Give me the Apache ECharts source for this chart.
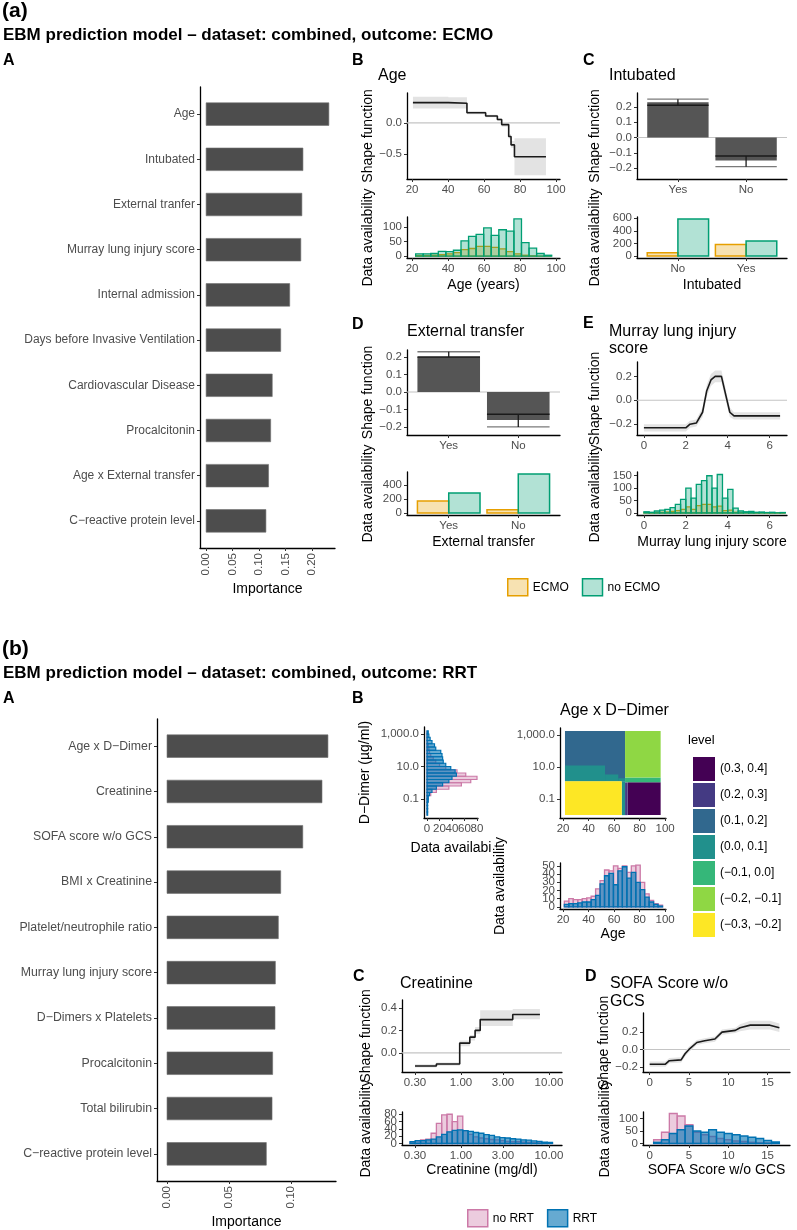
<!DOCTYPE html>
<html><head><meta charset="utf-8">
<script src="https://cdn.jsdelivr.net/npm/echarts@6/dist/echarts.min.js"></script>
<style>html,body{margin:0;padding:0;background:#fff}#c{width:797px;height:1230px}</style>
</head><body><div id="c"></div>
<script>
// ================= DATA =================
// (a) A  feature importance (ECMO)
const ecmoFeatures = ['Age','Intubated','External tranfer','Murray lung injury score','Internal admission','Days before Invasive Ventilation','Cardiovascular Disease','Procalcitonin','Age x External transfer','C\u2212reactive protein level'];
const ecmoImportance = [0.232,0.183,0.181,0.179,0.158,0.141,0.125,0.122,0.118,0.113];
const importanceTicksA = [0,0.05,0.10,0.15,0.20];

// (a) B  Age shape function
const ageShapeX = [20.5,40.2,50.5,60.9,67.4,69.8,73.7,75.0,76.9,94.4];
const ageShapeY = [0.326,0.315,0.163,0.110,0.054,-0.027,-0.217,-0.353,-0.543,-0.543];
const ageBandLo = [0.23,0.23,0.14,0.09,0.03,-0.06,-0.25,-0.40,-0.84,-0.84];
const ageBandHi = [0.42,0.41,0.19,0.13,0.08,0.01,-0.18,-0.29,-0.245,-0.245];
const ageBins = [22,26.2,30.4,34.6,38.8,43,47.2,51.4,55.6,59.8,64,68.2,72.4,76.6,80.8,85,89.2,93.4,97.6];
const ecmoAge   = [2,2,3,5,8,12,22,26,33,33,30,25,15,8,3,1,0,0];
const noEcmoAge = [8,8,9,16,15,20,52,67,74,96,71,90,85,127,46,27,9,3];
const ageTicks = [20,40,60,80,100];

// (a) C  Intubated
const intubShapeCats = ['Yes','No'];
const intubShapeBar   = [0.23,-0.15];
const intubShapeMean  = [0.21,-0.12];
const intubShapeBound = [0.25,-0.19];
const intubCountCats = ['No','Yes'];
const ecmoIntub   = [55,185];
const noEcmoIntub = [590,240];

// (a) D  External transfer
const extShapeCats = ['Yes','No'];
const extShapeBar   = [0.20,-0.16];
const extShapeMean  = [0.20,-0.128];
const extShapeBound = [0.23,-0.20];
const extCountCats = ['Yes','No'];
const ecmoExt   = [170,45];
const noEcmoExt = [285,555];

// (a) E  Murray lung injury score
const murrayShapeX = [0,2.0,2.2,2.5,2.8,3.0,3.2,3.4,3.7,3.9,4.1,4.3,6.5];
const murrayShapeY = [-0.23,-0.23,-0.20,-0.19,-0.10,0.08,0.17,0.20,0.20,0.05,-0.10,-0.13,-0.13];
const murrayBandLo = [-0.26,-0.26,-0.23,-0.22,-0.14,0.03,0.12,0.15,0.15,0.00,-0.14,-0.16,-0.16];
const murrayBandHi = [-0.20,-0.20,-0.17,-0.16,-0.06,0.13,0.22,0.25,0.25,0.10,-0.06,-0.10,-0.10];
const murrayBins = [0,0.25,0.5,0.75,1,1.25,1.5,1.75,2,2.25,2.5,2.75,3,3.25,3.5,3.75,4,4.25,4.5,4.75,5,5.25,5.5,5.75,6,6.25,6.5,6.75];
const noEcmoMurray = [5,3,8,12,15,22,35,55,100,60,115,130,150,100,155,60,95,20,8,5,6,3,4,2,3,1,2];
const ecmoMurray   = [1,0,2,3,4,6,10,15,25,15,30,35,35,25,28,10,12,3,1,1,1,0,1,0,0,0,0];
const murrayTicks = [0,2,4,6];

// (b) A  feature importance (RRT)
const rrtFeatures = ['Age x D\u2212Dimer','Creatinine','SOFA score w/o GCS','BMI x Creatinine','Platelet/neutrophile ratio','Murray lung injury score','D\u2212Dimers x Platelets','Procalcitonin','Total bilirubin','C\u2212reactive protein level'];
const rrtImportance = [0.1298,0.125,0.1095,0.0917,0.0898,0.0874,0.0871,0.0852,0.0847,0.0801];
const importanceTicksB = [0,0.05,0.10];

// (b) B  D-Dimer marginal histogram (log10 D-Dimer bins)
const ddimerLogBins = [-2.0,-1.8,-1.6,-1.4,-1.2,-1.0,-0.8,-0.6,-0.4,-0.2,0.0,0.2,0.4,0.6,0.8,1.0,1.2,1.4,1.6,1.8,2.0,2.2,2.4,2.6,2.8,3.0,3.2];
const rrtDdimer   = [1,1,1,1,2,2,4,8,15,25,35,40,47,45,38,30,26,25,24,22,14,12,8,5,3,2];
const noRrtDdimer = [0,0,0,0,1,2,6,15,35,55,70,80,62,48,30,20,14,10,6,4,3,2,1,0,0,0];
const ddimerTicks = [-1,1,3];
const ddimerTickLabels = ['0.1','10.0','1,000.0'];
const countTicksDd = [0,20,40,60,80];

// (b) B  Age x D-Dimer interaction (tiles: age range x log10 D-Dimer range, level index)
const levels = ['(0.3, 0.4]','(0.2, 0.3]','(0.1, 0.2]','(0.0, 0.1]','(\u22120.1, 0.0]','(\u22120.2, \u22120.1]','(\u22120.3, \u22120.2]'];
const levelColors = ['#440154','#443A83','#31688E','#21908C','#35B779','#8FD744','#FDE725'];
const heatX0 = [21.5,68.6,68.6,21.5,66.0,68.6,70.5,21.5,52.9,63.3];
const heatX1 = [68.6,96.5,96.5,66.0,68.6,70.5,96.5,52.9,63.3,68.6];
const heatY0 = [0.12,0.35,0.05,-1.99,-1.99,-1.99,-1.99,0.12,0.12,0.12];
const heatY1 = [3.25,3.25,0.35,0.12,0.12,0.05,0.05,1.09,0.54,0.30];
const heatLevel = [2,5,4,6,3,1,0,3,3,3];

// (b) B  Age histogram
const ageBinsB = [21,24.5,28,31.5,35,38.5,42,45.5,49,52.5,56,59.5,63,66.5,70,73.5,77,80.5,84,87.5,91,94.5,98];
const rrtAge   = [3,4,4,5,6,6,9,14,28,38,41,27,44,49,35,42,30,21,12,6,3,1];
const noRrtAge = [7,10,9,9,10,11,13,22,32,45,44,50,47,50,42,50,51,30,16,8,4,2];
const ageCountTicks = [0,10,20,30,40,50];

// (b) C  Creatinine (log10 mg/dl)
const creatShapeLogX = [-0.523,-0.28,-0.015,0.10,0.16,0.218,0.588,0.897];
const creatShapeY    = [-0.117,-0.099,0.087,0.14,0.20,0.296,0.341,0.341];
const creatBandLo    = [-0.13,-0.115,0.06,0.11,0.17,0.24,0.30,0.30];
const creatBandHi    = [-0.10,-0.085,0.11,0.16,0.23,0.38,0.39,0.39];
const creatLogBins = [-0.58,-0.52,-0.46,-0.40,-0.34,-0.28,-0.22,-0.16,-0.10,-0.04,0.02,0.08,0.14,0.20,0.26,0.32,0.38,0.44,0.50,0.56,0.62,0.68,0.74,0.80,0.86,0.92,0.98,1.04];
const noRrtCreat = [3,8,10,12,28,55,78,80,60,75,35,25,18,15,13,11,10,8,6,5,5,4,3,2,2,1,1];
const rrtCreat   = [5,8,8,10,12,18,25,32,36,37,35,33,30,28,24,22,18,16,15,13,12,10,9,7,6,4,3];
const creatTicks = [-0.5229,0,0.4771,1];
const creatTickLabels = ['0.30','1.00','3.00','10.00'];
const creatCountTicks = [0,20,40,60,80];

// (b) D  SOFA score w/o GCS
const sofaShapeX = [0,2,2.5,4,4.5,5,6,7,8.3,9.2,10.9,11.5,12.8,15.3,16.5];
const sofaShapeY = [-0.17,-0.17,-0.13,-0.12,-0.05,0.0,0.08,0.10,0.12,0.20,0.22,0.25,0.28,0.28,0.25];
const sofaBandLo = [-0.20,-0.20,-0.16,-0.15,-0.08,-0.03,0.05,0.07,0.09,0.17,0.19,0.21,0.23,0.23,0.20];
const sofaBandHi = [-0.14,-0.14,-0.10,-0.09,-0.02,0.03,0.11,0.13,0.15,0.23,0.25,0.29,0.33,0.33,0.30];
const sofaBins = [0.5,1.5,2.5,3.5,4.5,5.5,6.5,7.5,8.5,9.5,10.5,11.5,12.5,13.5,14.5,15.5,16.5];
const noRrtSofa = [15,45,120,110,75,45,35,28,20,15,10,8,5,3,2,1];
const rrtSofa   = [5,15,40,55,70,50,45,55,45,40,35,30,25,20,12,6];
const sofaTicks = [0,5,10,15];

// ================= STYLE / BUILD =================
const FONT = "'Liberation Sans', Arial, Helvetica, sans-serif";
const C_ECMO='#E69F00', F_ECMO='rgba(230,159,0,0.30)';
const C_NOECMO='#009E73', F_NOECMO='rgba(0,158,115,0.30)';
const C_NORRT='#CC79A7', F_NORRT='rgba(204,121,167,0.38)';
const C_RRT='#0072B2', F_RRT='rgba(0,114,178,0.60)';
const MINUS='\u2212';
const fmt = d => v => (v < -1e-9 ? MINUS : '') + Math.abs(v).toFixed(d);
const lookup = (ticks, labels) => v => { let bi=0, bd=1e9; ticks.forEach((t,i)=>{const d=Math.abs(t-v); if(d<bd){bd=d;bi=i;}}); return labels[bi]; };

const grids=[], xAxes=[], yAxes=[], series=[], texts=[], extraX=[], extraY=[];

function mkAxis(a, gi, dim, ticks, showLine){
  const o = {gridIndex:gi, type:'value', min:a.min, max:a.max, inverse:!!a.inverse,
    position: dim==='x'?'bottom':'left',
    axisLine:{show:showLine,onZero:false,lineStyle:{color:'#000',width:1.3}},
    axisTick:{show:true,length:3,lineStyle:{color:'#333',width:1},customValues:ticks},
    axisLabel:{show:true,customValues:ticks,formatter:a.fmt,color:'#4d4d4d',fontSize:a.fs||11.5,fontFamily:FONT,margin:a.margin||5,rotate:a.rotate||0,hideOverlap:false,showMinLabel:true,showMaxLabel:true},
    splitLine:{show:false}};
  if(a.name && showLine){ o.name=a.name; o.nameLocation='middle'; o.nameGap=a.gap;
    o.nameTextStyle={color:'#000',fontSize:a.nfs||14,fontFamily:FONT};
    if(dim==='y') o.nameRotate=90; }
  return o;
}
// crowded tick sets are split over stacked axes at the same place so every label is drawn
function addAxes(a, gi, dim, mainList, extraList){
  const groups = a.groups || [a.ticks];
  mainList.push(mkAxis(a, gi, dim, groups[0], true));
  for(let k=1;k<groups.length;k++) extraList.push(mkAxis(a, gi, dim, groups[k], false));
}
function panel(p){
  const i=grids.length;
  grids.push({left:p.left,top:p.top,width:p.width,height:p.height});
  addAxes(p.x,i,'x',xAxes,extraX); addAxes(p.y,i,'y',yAxes,extraY);
  return i;
}
function base(gi){ return {type:'custom',xAxisIndex:gi,yAxisIndex:gi,silent:true}; }

function hbars(gi, values){
  return Object.assign(base(gi),{data:values.map((v,i)=>[v,i+1]),encode:{x:0,y:1},
    renderItem:(p,api)=>{const v=api.value(0),c=api.value(1);
      const a=api.coord([0,c-0.25]), b=api.coord([v,c+0.25]);
      return {type:'rect',shape:{x:a[0],y:Math.min(a[1],b[1]),width:b[0]-a[0],height:Math.abs(b[1]-a[1])},style:{fill:'#4d4d4d',stroke:'#6e6e6e',lineWidth:0.6}};}});
}
function hist(gi, name, edges, counts, stroke, fill){
  return Object.assign(base(gi),{name,data:counts.map((c,i)=>[edges[i],edges[i+1],c]),encode:{x:[0,1],y:2},
    itemStyle:{color:fill,borderColor:stroke,borderWidth:1.4},
    renderItem:(p,api)=>{const a=api.coord([api.value(0),api.value(2)]), b=api.coord([api.value(1),0]);
      return {type:'rect',shape:{x:a[0],y:a[1],width:b[0]-a[0],height:b[1]-a[1]},style:{fill,stroke,lineWidth:1.3}};}});
}
function hhist(gi, name, edges, counts, stroke, fill){
  return Object.assign(base(gi),{name,data:counts.map((c,i)=>[c,edges[i],edges[i+1]]),encode:{x:0,y:[1,2]},
    itemStyle:{color:fill,borderColor:stroke,borderWidth:1.4},
    renderItem:(p,api)=>{const a=api.coord([0,api.value(2)]), b=api.coord([api.value(0),api.value(1)]);
      return {type:'rect',shape:{x:a[0],y:a[1],width:b[0]-a[0],height:b[1]-a[1]},style:{fill,stroke,lineWidth:1.2}};}});
}
function dodge(gi, name, counts, side, stroke, fill){
  return Object.assign(base(gi),{name,data:counts.map((c,i)=>[i+1,c]),encode:{x:0,y:1},
    itemStyle:{color:fill,borderColor:stroke,borderWidth:1.4},
    renderItem:(p,api)=>{const c=api.value(0),v=api.value(1);
      const x0=side<0?c-0.45:c, x1=side<0?c:c+0.45;
      const a=api.coord([x0,v]), b=api.coord([x1,0]);
      return {type:'rect',shape:{x:a[0],y:a[1],width:b[0]-a[0],height:b[1]-a[1]},style:{fill,stroke,lineWidth:1.5}};}});
}
function shapeBars(gi, bar, mean, bound){
  return Object.assign(base(gi),{data:bar.map((v,i)=>[i+1,v,mean[i],bound[i]]),encode:{x:0,y:1},
    renderItem:(p,api)=>{const c=api.value(0),v=api.value(1),m=api.value(2),b=api.value(3);
      const r0=api.coord([c-0.45,0]), r1=api.coord([c+0.45,v]);
      const m0=api.coord([c-0.45,m]), m1=api.coord([c+0.45,m]);
      const b0=api.coord([c-0.45,b]), b1=api.coord([c+0.45,b]);
      const e0=api.coord([c,m]), e1=api.coord([c,b]);
      return {type:'group',children:[
        {type:'rect',shape:{x:r0[0],y:Math.min(r0[1],r1[1]),width:r1[0]-r0[0],height:Math.abs(r1[1]-r0[1])},style:{fill:'#555555'}},
        {type:'line',shape:{x1:b0[0],y1:b0[1],x2:b1[0],y2:b1[1]},style:{stroke:'#7a7a7a',lineWidth:1.3}},
        {type:'line',shape:{x1:e0[0],y1:e0[1],x2:e1[0],y2:e1[1]},style:{stroke:'#1a1a1a',lineWidth:1.3}},
        {type:'line',shape:{x1:m0[0],y1:m0[1],x2:m1[0],y2:m1[1]},style:{stroke:'#1a1a1a',lineWidth:1.5}}]};}});
}
function zeroLine(gi, xmin, xmax){
  return Object.assign(base(gi),{data:[[xmin,0]],encode:{x:0,y:1},z:1,
    renderItem:(p,api)=>{const a=api.coord([xmin,0]), b=api.coord([xmax,0]);
      return {type:'line',shape:{x1:a[0],y1:a[1],x2:b[0],y2:b[1]},style:{stroke:'#c4c4c4',lineWidth:1.1}};}});
}
function band(gi, xs, lo, hi, step){
  return Object.assign(base(gi),{data:xs.map((x,i)=>[x,lo[i],hi[i]]),encode:{x:0,y:[1,2]},
    renderItem:(p,api)=>{ if(p.dataIndex!==0) return null;
      const up=[], dn=[];
      for(let i=0;i<xs.length;i++){
        up.push(api.coord([xs[i],hi[i]]));
        if(step && i<xs.length-1) up.push(api.coord([xs[i+1],hi[i]]));
      }
      for(let i=xs.length-1;i>=0;i--){
        if(step && i<xs.length-1) dn.push(api.coord([xs[i+1],lo[i]]));
        dn.push(api.coord([xs[i],lo[i]]));
      }
      return {type:'polygon',shape:{points:up.concat(dn)},style:{fill:'#e3e3e3'}};}});
}
function line(gi, xs, ys, step){
  return {type:'line',xAxisIndex:gi,yAxisIndex:gi,silent:true,data:xs.map((x,i)=>[x,ys[i]]),
    step:step?'end':false,showSymbol:false,symbol:'none',z:3,lineStyle:{color:'#1a1a1a',width:1.6},animation:false};
}
function T(text,x,y,size,weight,color){
  texts.push({type:'text',x,y,silent:true,style:{text,fontSize:size,fontWeight:weight||'normal',fontFamily:FONT,fill:color||'#000',align:'left',textAlign:'left',verticalAlign:'middle',textVerticalAlign:'middle'}});
}

// ---------- (a) ----------
const pA = panel({left:200,top:87,width:135,height:461,
  x:{min:-0.0116,max:0.2436,ticks:importanceTicksA,fmt:fmt(2),rotate:90,fs:11.5,name:'Importance',gap:34},
  y:{min:0.4,max:10.6,inverse:true,ticks:ecmoFeatures.map((f,i)=>i+1),fmt:lookup(ecmoFeatures.map((f,i)=>i+1),ecmoFeatures),fs:12}});
series.push(hbars(pA, ecmoImportance));

const pB1 = panel({left:407,top:93,width:153,height:86,
  x:{min:17.2,max:102.2,ticks:ageTicks,fmt:fmt(0)},
  y:{min:-0.9,max:0.48,ticks:[-0.5,0],fmt:fmt(1),name:'Shape function',gap:32}});
series.push(zeroLine(pB1,17.2,102.2), band(pB1,ageShapeX,ageBandLo,ageBandHi,true), line(pB1,ageShapeX,ageShapeY,true));
const pB2 = panel({left:407,top:217,width:153,height:41,
  x:{min:17.2,max:102.2,ticks:ageTicks,fmt:fmt(0),name:'Age (years)',gap:20},
  y:{min:-6.4,max:133.4,ticks:[0,50,100],fmt:fmt(0),name:'Data availability',gap:32}});
series.push(hist(pB2,'ECMO',ageBins,ecmoAge,C_ECMO,F_ECMO), hist(pB2,'no ECMO',ageBins,noEcmoAge,C_NOECMO,F_NOECMO));

const pC1 = panel({left:637,top:93,width:150,height:86,
  x:{min:0.4,max:2.6,ticks:[1,2],fmt:lookup([1,2],intubShapeCats)},
  y:{min:-0.27,max:0.29,ticks:[-0.2,-0.1,0,0.1,0.2],fmt:fmt(1),name:'Shape function',gap:35}});
series.push(zeroLine(pC1,0.4,2.6), shapeBars(pC1,intubShapeBar,intubShapeMean,intubShapeBound));
const pC2 = panel({left:637,top:217,width:150,height:41,
  x:{min:0.4,max:2.6,ticks:[1,2],fmt:lookup([1,2],intubCountCats),name:'Intubated',gap:20},
  y:{min:-30,max:620,ticks:[0,200,400,600],fmt:fmt(0),name:'Data availability',gap:35}});
series.push(dodge(pC2,'ECMO',ecmoIntub,-1,C_ECMO,F_ECMO), dodge(pC2,'no ECMO',noEcmoIntub,1,C_NOECMO,F_NOECMO));

const pD1 = panel({left:407,top:350,width:153,height:85,
  x:{min:0.4,max:2.6,ticks:[1,2],fmt:lookup([1,2],extShapeCats)},
  y:{min:-0.246,max:0.24,ticks:[-0.2,-0.1,0,0.1,0.2],fmt:fmt(1),name:'Shape function',gap:32}});
series.push(zeroLine(pD1,0.4,2.6), shapeBars(pD1,extShapeBar,extShapeMean,extShapeBound));
const pD2 = panel({left:407,top:472,width:153,height:43,
  x:{min:0.4,max:2.6,ticks:[1,2],fmt:lookup([1,2],extCountCats),name:'External transfer',gap:20},
  y:{min:-28,max:583,ticks:[0,200,400],fmt:fmt(0),name:'Data availability',gap:32}});
series.push(dodge(pD2,'ECMO',ecmoExt,-1,C_ECMO,F_ECMO), dodge(pD2,'no ECMO',noEcmoExt,1,C_NOECMO,F_NOECMO));

const pE1 = panel({left:637,top:362,width:150,height:73,
  x:{min:-0.33,max:6.83,ticks:murrayTicks,fmt:fmt(0)},
  y:{min:-0.29,max:0.32,ticks:[-0.2,0,0.2],fmt:fmt(1),name:'Shape function',gap:35}});
series.push(zeroLine(pE1,-0.33,6.83), band(pE1,murrayShapeX,murrayBandLo,murrayBandHi,false), line(pE1,murrayShapeX,murrayShapeY,false));
const pE2 = panel({left:637,top:472,width:150,height:43,
  x:{min:-0.33,max:6.83,ticks:murrayTicks,fmt:fmt(0),name:'Murray lung injury score',gap:20},
  y:{min:-8,max:165,ticks:[0,50,100,150],fmt:fmt(0),name:'Data availability',gap:35}});
series.push(hist(pE2,'ECMO',murrayBins,ecmoMurray,C_ECMO,F_ECMO), hist(pE2,'no ECMO',murrayBins,noEcmoMurray,C_NOECMO,F_NOECMO));

// ---------- (b) ----------
const qA = panel({left:157,top:719,width:179,height:462,
  x:{min:-0.0081,max:0.1363,ticks:importanceTicksB,fmt:fmt(2),rotate:90,fs:11.5,name:'Importance',gap:34},
  y:{min:0.4,max:10.6,inverse:true,ticks:rrtFeatures.map((f,i)=>i+1),fmt:lookup(rrtFeatures.map((f,i)=>i+1),rrtFeatures),fs:12.3}});
series.push(hbars(qA, rrtImportance));

const qB1 = panel({left:424,top:727,width:54,height:91,
  x:{min:-4.8,max:81.6,ticks:countTicksDd,groups:[[countTicksDd[0],countTicksDd[2],countTicksDd[4]],[countTicksDd[1],countTicksDd[3]]],fmt:fmt(0),name:'Data availabi',gap:23},
  y:{min:-2.17,max:3.43,ticks:ddimerTicks,fmt:lookup(ddimerTicks,ddimerTickLabels),name:'D\u2212Dimer (\u00b5g/ml)',gap:52}});
series.push(hhist(qB1,'no RRT',ddimerLogBins,noRrtDdimer,C_NORRT,F_NORRT), hhist(qB1,'RRT',ddimerLogBins,rrtDdimer,C_RRT,F_RRT));

const qB2 = panel({left:560,top:728,width:106,height:90,
  x:{min:17.6,max:100.7,ticks:ageTicks,fmt:fmt(0)},
  y:{min:-2.17,max:3.43,ticks:ddimerTicks,fmt:lookup(ddimerTicks,ddimerTickLabels)}});
levels.forEach((lv,li)=>{
  const rows=[]; heatLevel.forEach((l,k)=>{ if(l===li) rows.push([heatX0[k],heatX1[k],heatY0[k],heatY1[k]]); });
  const col=levelColors[li];
  series.push(Object.assign(base(qB2),{name:lv,data:rows,encode:{x:[0,1],y:[2,3]},itemStyle:{color:col},
    renderItem:(p,api)=>{const a=api.coord([api.value(0),api.value(3)]), b=api.coord([api.value(1),api.value(2)]);
      return {type:'rect',shape:{x:a[0],y:a[1],width:b[0]-a[0],height:b[1]-a[1]},style:{fill:col}};}}));
});
const qB3 = panel({left:560,top:863,width:106,height:46,
  x:{min:17.6,max:100.7,ticks:ageTicks,fmt:fmt(0),name:'Age',gap:15},
  y:{min:-2.55,max:53.55,ticks:ageCountTicks,groups:[[ageCountTicks[0],ageCountTicks[3]],[ageCountTicks[1],ageCountTicks[4]],[ageCountTicks[2],ageCountTicks[5]]],fmt:fmt(0),name:'Data availability',gap:53}});
series.push(hist(qB3,'no RRT',ageBinsB,noRrtAge,C_NORRT,F_NORRT), hist(qB3,'RRT',ageBinsB,rrtAge,C_RRT,F_RRT));

const qC1 = panel({left:402,top:1000,width:160,height:72,
  x:{min:-0.671,max:1.148,ticks:creatTicks,fmt:lookup(creatTicks,creatTickLabels)},
  y:{min:-0.17,max:0.47,ticks:[0,0.2,0.4],fmt:fmt(1),name:'Shape function',gap:29}});
series.push(zeroLine(qC1,-0.671,1.148), band(qC1,creatShapeLogX,creatBandLo,creatBandHi,true), line(qC1,creatShapeLogX,creatShapeY,true));
const qC2 = panel({left:402,top:1112,width:160,height:33,
  x:{min:-0.671,max:1.148,ticks:creatTicks,fmt:lookup(creatTicks,creatTickLabels),name:'Creatinine (mg/dl)',gap:17},
  y:{min:-4.1,max:86.1,ticks:creatCountTicks,groups:[[creatCountTicks[0],creatCountTicks[3]],[creatCountTicks[1],creatCountTicks[4]],[creatCountTicks[2]]],fmt:fmt(0),name:'Data availability',gap:29}});
series.push(hist(qC2,'no RRT',creatLogBins,noRrtCreat,C_NORRT,F_NORRT), hist(qC2,'RRT',creatLogBins,rrtCreat,C_RRT,F_RRT));

const qD1 = panel({left:643,top:1013,width:147,height:59,
  x:{min:-0.85,max:17.85,ticks:sofaTicks,fmt:fmt(0)},
  y:{min:-0.26,max:0.42,ticks:[-0.2,0,0.2],fmt:fmt(1),name:'Shape function',gap:31}});
series.push(zeroLine(qD1,-0.85,17.85), band(qD1,sofaShapeX,sofaBandLo,sofaBandHi,false), line(qD1,sofaShapeX,sofaShapeY,false));
const qD2 = panel({left:643,top:1112,width:147,height:33,
  x:{min:-0.85,max:17.85,ticks:sofaTicks,fmt:fmt(0),name:'SOFA Score w/o GCS',gap:17},
  y:{min:-6,max:126,ticks:[0,50,100],fmt:fmt(0),name:'Data availability',gap:31}});
series.push(hist(qD2,'no RRT',sofaBins,noRrtSofa,C_NORRT,F_NORRT), hist(qD2,'RRT',sofaBins,rrtSofa,C_RRT,F_RRT));

// extra label-only axes appended after all panel axes
extraX.forEach(a=>xAxes.push(a)); extraY.forEach(a=>yAxes.push(a));

// ---------- texts ----------
T('(a)',2,11,21,'bold');
T('EBM prediction model \u2013 dataset: combined, outcome: ECMO',3,35,17,'bold');
T('A',3,61,16,'bold'); T('B',352,61,16,'bold'); T('C',583,61,16,'bold');
T('Age',378,76,16); T('Intubated',609,76,16);
T('D',352,325,16,'bold'); T('External transfer',407,331.5,16);
T('E',583,324,16,'bold'); T('Murray lung injury',609,331.5,16); T('score',609,349,16);
T('(b)',2,649,21,'bold');
T('EBM prediction model \u2013 dataset: combined, outcome: RRT',3,673,17,'bold');
T('A',3,699,16,'bold'); T('B',352,699,16,'bold');
T('Age x D\u2212Dimer',560,711,16);
T('level',688,740,13);
T('C',353,977,16,'bold'); T('Creatinine',400,984,16);
T('D',585,977,16,'bold'); T('SOFA Score w/o',610,984,16); T('GCS',610,1002,16);

const legTxt = {color:'#000',fontSize:12,fontFamily:FONT};
const option = {
  animation:false,
  grid:grids, xAxis:xAxes, yAxis:yAxes, series,
  graphic:{elements:texts},
  legend:[
    {left:502,top:573,orient:'horizontal',icon:'rect',itemWidth:20,itemHeight:17,itemGap:13,selectedMode:false,textStyle:legTxt,
     data:[{name:'ECMO',itemStyle:{color:F_ECMO,borderColor:C_ECMO,borderWidth:1.5}},{name:'no ECMO',itemStyle:{color:F_NOECMO,borderColor:C_NOECMO,borderWidth:1.5}}]},
    {left:462,top:1204,orient:'horizontal',icon:'rect',itemWidth:20,itemHeight:17,itemGap:13,selectedMode:false,textStyle:legTxt,
     data:[{name:'no RRT',itemStyle:{color:F_NORRT,borderColor:C_NORRT,borderWidth:1.5}},{name:'RRT',itemStyle:{color:F_RRT,borderColor:C_RRT,borderWidth:1.5}}]},
    {left:688,top:752,orient:'vertical',icon:'rect',itemWidth:22,itemHeight:24,itemGap:2,selectedMode:false,textStyle:legTxt,
     data:levels.map((lv,i)=>({name:lv,itemStyle:{color:levelColors[i],borderWidth:0}}))}
  ]
};
const chart = echarts.init(document.getElementById('c'),null,{renderer:'canvas'});
chart.setOption(option);
</script></body></html>
